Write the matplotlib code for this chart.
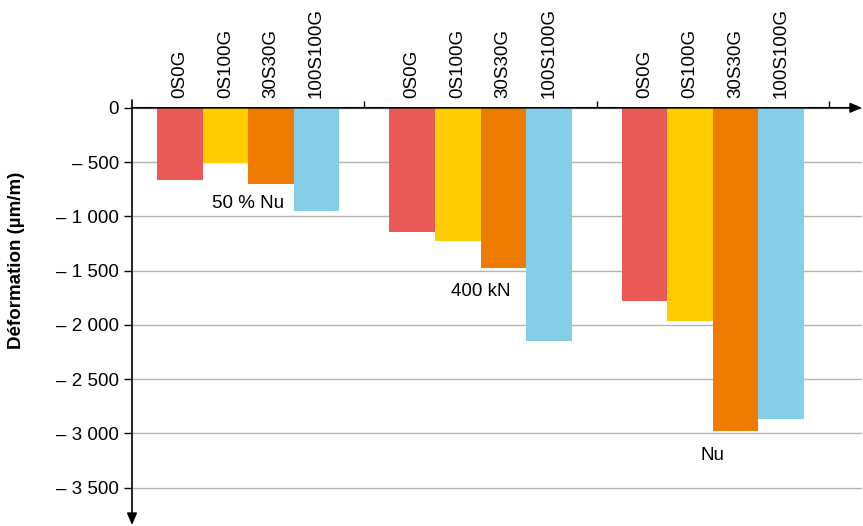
import numpy as np
import matplotlib
matplotlib.use('Agg')
import matplotlib.pyplot as plt
from matplotlib.ticker import FuncFormatter

plt.rcParams['font.family'] = ['Liberation Sans', 'DejaVu Sans']

groups = ['50 % Nu', '400 kN', 'Nu']
series = ['0S0G', '0S100G', '30S30G', '100S100G']
colors = ['#E95A57', '#FECC00', '#EE7B00', '#84CFE7']
# deformation per group, one list per series
s_0s0g = [-665, -1145, -1780]
s_0s100g = [-505, -1230, -1960]
s_30s30g = [-700, -1475, -2980]
s_100s100g = [-955, -2145, -2870]
values = [s_0s0g, s_0s100g, s_30s30g, s_100s100g]
group_label_y = [-884, -1693, -3200]
yticks = [0, -500, -1000, -1500, -2000, -2500, -3000, -3500]


def fmt(v, pos):
    if v == 0:
        return '0'
    return '\u2013 ' + '{:,.0f}'.format(abs(v)).replace(',', ' ')


fig = plt.figure(figsize=(8.63, 5.26), dpi=100)
ax = fig.add_axes([132 / 863, 1 / 526, 730 / 863, 425 / 526])

x = np.arange(len(groups))
width = 0.196
offsets = (np.arange(len(series)) - 1.5) * width
for vals, off, col in zip(values, offsets, colors):
    ax.bar(x + off, vals, width, color=col, linewidth=0, zorder=2)

for xi, label, ly in zip(x, groups, group_label_y):
    ax.text(xi, ly, label, ha='center', va='center', fontsize=13.5, zorder=3)

ax.set_xlim(-0.5, 2.642)
ax.set_ylim(-3844, 72)

# x axis sits at y = 0 with the bar names above it
for s in ['bottom', 'right', 'left']:
    ax.spines[s].set_visible(False)
ax.spines['top'].set_visible(False)
ax.xaxis.set_ticks_position('top')
bar_pos = (x[:, None] + offsets[None, :]).ravel()
ax.set_xticks(bar_pos)
ax.set_xticklabels(series * len(groups))
ax.set_xticks([0.5, 1.5, 2.5], minor=True)
ax.tick_params(axis='x', which='major', length=0, pad=7, labelsize=13.5,
               labelrotation=90)
ax.tick_params(axis='x', which='minor', length=5, width=1, direction='out',
               color='black')
# shift top ticks/labels down to the y = 0 line
ax.spines['top'].set_position(('data', 0))

ax.set_yticks(yticks)
ax.yaxis.set_major_formatter(FuncFormatter(fmt))
ax.tick_params(axis='y', length=6, width=1, pad=3.5, labelsize=13.5, color='black')
ax.yaxis.grid(True, color='#b4b4b4', linewidth=1, zorder=0)
ax.set_axisbelow(True)

# axis lines with arrow heads
ax.annotate('', xy=(1.0, 0), xycoords=('axes fraction', 'data'),
            xytext=(0.0, 0), textcoords=('axes fraction', 'data'),
            arrowprops=dict(arrowstyle='-|>,head_length=0.7,head_width=0.3',
                            color='black', lw=1.2, shrinkA=0, shrinkB=0),
            annotation_clip=False, zorder=4)
ax.annotate('', xy=(0.0, 0.0), xycoords='axes fraction',
            xytext=(0.0, 1.0), textcoords='axes fraction',
            arrowprops=dict(arrowstyle='-|>,head_length=0.7,head_width=0.3',
                            color='black', lw=1.2, shrinkA=0, shrinkB=0),
            annotation_clip=False, zorder=4)

fig.text(17 / 863, 1 - 260 / 526, 'Déformation (µm/m)', rotation=90,
         ha='center', va='center', fontsize=13.5, fontweight='bold')

fig.savefig('out.png', dpi=100)
